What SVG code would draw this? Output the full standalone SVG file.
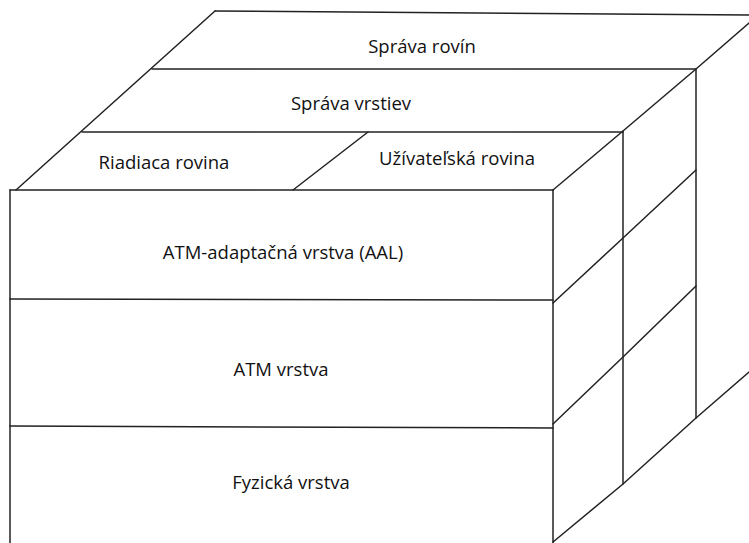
<svg xmlns="http://www.w3.org/2000/svg" width="749" height="543" viewBox="0 0 749 543">
<style>
.ln{stroke:#222;stroke-width:1.5;fill:none;stroke-linecap:round}
.tx{font-family:"Open Sans","Liberation Sans",sans-serif;font-size:18.5px;fill:#111;text-anchor:middle}
</style>
<rect width="749" height="543" fill="#fff"/>
<g id="connectors">
<path class="ln" d="M215,11 L749,15"/>
<path class="ln" d="M215,11 L16,190"/>
<path class="ln" d="M152,69 L696,69"/>
<path class="ln" d="M82,132 L623,132"/>
<path class="ln" d="M368,132 L293,190"/>
<path class="ln" d="M749,23 L696,69 L623,131 L553,190"/>
<path class="ln" d="M696,170 L623,238 L553,303"/>
<path class="ln" d="M696,286 L623,357 L553,424"/>
<path class="ln" d="M749,372 L696,418 L623,484 L553,542"/>
<path class="ln" d="M696,69 L696,418"/>
<path class="ln" d="M623,131 L623,484"/>
<path class="ln" d="M553,190 L553,543"/>
<path class="ln" d="M10,190 L10,543"/>
<path class="ln" d="M10,190 L553,190"/>
<path class="ln" d="M10,299 L553,300"/>
<path class="ln" d="M10,426 L553,428"/>
</g>
<g id="n-sprava-rovin"><text class="tx" x="422" y="53">Správa rovín</text></g>
<g id="n-sprava-vrstiev"><text class="tx" x="351" y="110">Správa vrstiev</text></g>
<g id="n-riadiaca"><text class="tx" x="164" y="169">Riadiaca rovina</text></g>
<g id="n-uzivatelska"><text class="tx" x="457" y="165">Užívateľská rovina</text></g>
<g id="n-aal"><text class="tx" x="283" y="259">ATM-adaptačná vrstva (AAL)</text></g>
<g id="n-atm"><text class="tx" x="281" y="376">ATM vrstva</text></g>
<g id="n-fyz"><text class="tx" x="291" y="489">Fyzická vrstva</text></g>
</svg>
